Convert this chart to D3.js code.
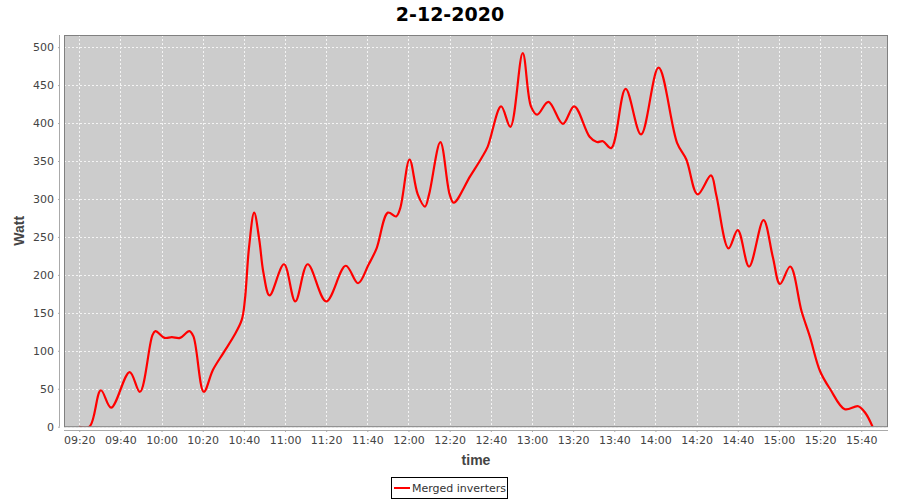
<!DOCTYPE html>
<html>
<head>
<meta charset="utf-8">
<script src="https://cdn.jsdelivr.net/npm/d3@7"></script>
<style>
  body { margin: 0; background: #fff; }
  text { font-family: "DejaVu Sans", sans-serif; }
</style>
</head>
<body>
<script>
var svgWidth = 900;
var svgHeight = 500;

// readings of the day (time of sample, watt)
var times = ["09:20:00", "09:25:00", "09:30:30", "09:35:30", "09:44:30", "09:49:30", "09:55:30", "09:57:00",
  "10:01:30", "10:05:00", "10:09:00", "10:13:30", "10:15:30", "10:20:30", "10:25:00", "10:30:00", "10:35:30",
  "10:39:00", "10:40:30", "10:42:30", "10:45:00", "10:47:30", "10:49:30", "10:52:30", "10:59:30", "11:05:00", "11:11:00",
  "11:20:00", "11:29:30", "11:35:30", "11:40:30", "11:44:30", "11:50:00", "11:54:00", "11:56:00", "12:00:30",
  "12:04:30", "12:08:00", "12:10:00", "12:15:30", "12:20:00", "12:22:00", "12:30:00", "12:35:30", "12:38:30",
  "12:45:00", "12:49:30", "12:55:30", "12:59:30", "13:02:30", "13:08:00", "13:15:00", "13:20:30",
  "13:28:00", "13:31:30", "13:34:30", "13:38:30", "13:45:30", "13:53:00", "14:01:30", "14:10:30", "14:15:00",
  "14:20:30", "14:27:00", "14:29:30", "14:35:30", "14:40:00", "14:45:30", "14:52:30", "14:57:00", "15:00:30",
  "15:05:30", "15:11:00", "15:15:00", "15:20:00", "15:25:00", "15:32:00", "15:38:30", "15:42:00", "15:45:30"];
var watts = [0, 0, 48, 25, 72, 46, 120, 126,
  117, 118, 117, 126, 119, 46, 75, 97, 121,
  141, 167, 236, 282, 246, 203, 173, 214, 165, 214,
  165, 212, 189, 213, 235, 282, 277, 288, 352,
  306, 290, 306, 375, 306, 295, 330, 354, 369,
  422, 395, 492, 422, 411, 428, 399, 422,
  382, 375, 376, 367, 445, 385, 473, 374, 352,
  306, 331, 306, 235, 259, 211, 272, 224, 188,
  211, 152, 119, 73, 49, 23, 27, 18, 0];
var yTicks = [0, 50, 100, 150, 200, 250, 300, 350, 400, 450, 500];

var plot = { left: 64, right: 888, top: 35, bottom: 426.7 };

var parseTime = d3.timeParse("%H:%M:%S");
var data = times.map(function (t, i) {
  return { time: parseTime(t), watt: watts[i] };
});

var svg = d3.select("body").append("svg")
  .attr("width", svgWidth)
  .attr("height", svgHeight);

var x = d3.scaleTime()
  .domain([parseTime("09:12:36"), parseTime("15:53:00")])
  .range([plot.left, plot.right]);

var y = d3.scaleLinear()
  .domain([0, 516])
  .range([plot.bottom, plot.top]);

// plot background
svg.append("rect")
  .attr("x", plot.left)
  .attr("y", plot.top)
  .attr("width", plot.right - plot.left)
  .attr("height", plot.bottom - plot.top)
  .attr("fill", "#cccccc");

// grid lines
var xTicks = x.ticks(d3.timeMinute.every(20));
svg.append("g").selectAll("line")
  .data(xTicks)
  .enter().append("line")
  .attr("x1", d => Math.round(x(d)) + 0.5)
  .attr("x2", d => Math.round(x(d)) + 0.5)
  .attr("y1", plot.top)
  .attr("y2", plot.bottom)
  .attr("stroke", "#f4f4f4")
  .attr("stroke-dasharray", "2,2");

svg.append("g").selectAll("line")
  .data(yTicks)
  .enter().append("line")
  .attr("x1", plot.left)
  .attr("x2", plot.right)
  .attr("y1", d => Math.round(y(d)) + 0.5)
  .attr("y2", d => Math.round(y(d)) + 0.5)
  .attr("stroke", "#f4f4f4")
  .attr("stroke-dasharray", "2,2");

// the series
svg.append("clipPath").attr("id", "clip")
  .append("rect")
  .attr("x", plot.left)
  .attr("y", plot.top)
  .attr("width", plot.right - plot.left)
  .attr("height", plot.bottom - plot.top);

var line = d3.line()
  .x(d => x(d.time))
  .y(d => y(d.watt))
  .curve(d3.curveCatmullRom.alpha(0.5));

svg.append("path")
  .datum(data)
  .attr("clip-path", "url(#clip)")
  .attr("d", line)
  .attr("fill", "none")
  .attr("stroke", "#ff0000")
  .attr("stroke-width", 2.2)
  .attr("stroke-linejoin", "round");

// plot border
svg.append("rect")
  .attr("x", plot.left + 0.5)
  .attr("y", plot.top + 0.5)
  .attr("width", plot.right - plot.left - 1)
  .attr("height", plot.bottom - plot.top - 0.5)
  .attr("fill", "none")
  .attr("stroke", "#808080");

// axes
var xAxis = svg.append("g")
  .attr("transform", `translate(0, 430)`)
  .call(d3.axisBottom(x)
    .ticks(d3.timeMinute.every(20))
    .tickFormat(d3.timeFormat("%H:%M"))
    .tickSize(2)
    .tickPadding(4));

var yAxis = svg.append("g")
  .attr("transform", `translate(60, 0)`)
  .call(d3.axisLeft(y)
    .tickValues(yTicks)
    .tickSize(2)
    .tickPadding(4));

[xAxis, yAxis].forEach(function (ax) {
  ax.select(".domain").attr("stroke", "#aaaaaa");
  ax.selectAll(".tick line").attr("stroke", "#aaaaaa");
  ax.selectAll(".tick text")
    .attr("fill", "#444444")
    .style("font-size", "11px")
    .style("font-family", "DejaVu Sans, sans-serif");
});
xAxis.select(".domain").attr("d", `M${plot.left},0.5H${plot.right}`);
yAxis.select(".domain").attr("d", `M-0.5,${plot.top}V${plot.bottom}`);

// labels
svg.append("text")
  .attr("x", 450)
  .attr("y", 21)
  .attr("text-anchor", "middle")
  .style("font-size", "19px")
  .style("font-weight", "bold")
  .attr("fill", "#000")
  .text("2-12-2020");

svg.append("text")
  .attr("x", (plot.left + plot.right) / 2)
  .attr("y", 465)
  .attr("text-anchor", "middle")
  .style("font-size", "14px")
  .style("font-weight", "bold")
  .style("font-family", "Liberation Sans, sans-serif")
  .attr("fill", "#444444")
  .text("time");

svg.append("text")
  .attr("transform", `translate(24, ${(plot.top + plot.bottom) / 2}) rotate(-90)`)
  .attr("text-anchor", "middle")
  .style("font-size", "14px")
  .style("font-weight", "bold")
  .style("font-family", "Liberation Sans, sans-serif")
  .attr("fill", "#444444")
  .text("Watt");

// legend
var legend = svg.append("g");
legend.append("rect")
  .attr("x", 391.5)
  .attr("y", 477.5)
  .attr("width", 116)
  .attr("height", 21)
  .attr("fill", "#fff")
  .attr("stroke", "#000");
legend.append("line")
  .attr("x1", 394)
  .attr("x2", 410)
  .attr("y1", 488)
  .attr("y2", 488)
  .attr("stroke", "#ff0000")
  .attr("stroke-width", 2);
legend.append("text")
  .attr("x", 412)
  .attr("y", 492)
  .style("font-size", "11px")
  .attr("fill", "#333")
  .text("Merged inverters");
</script>
</body>
</html>
